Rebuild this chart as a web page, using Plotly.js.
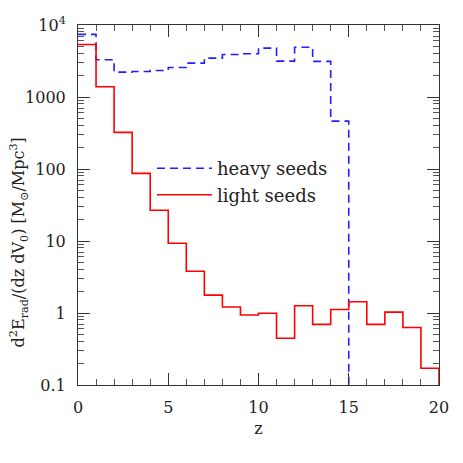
<!DOCTYPE html>
<html>
<head>
<meta charset="utf-8">
<script src="https://cdn.plot.ly/plotly-3.0.1.min.js"></script>
<style>html,body{margin:0;padding:0;background:#fff;}#chart{width:463px;height:463px;}</style>
</head>
<body>
<div id="chart"></div>
<script>
// Bin edges in redshift z
const zEdgesHeavy = [0,1,2,3,4,5,6,7,8,9,10,11,12,13,14,15];
const zEdgesLight = [0,1,2,3,4,5,6,7,8,9,10,11,12,13,14,15,16,17,18,19,20];
// d2E/(dz dV0) per bin [Msun/Mpc^3]
const heavySeeds = [7400, 3290, 2215, 2260, 2330, 2570, 2950, 3465, 3900, 3985, 4770, 3150, 4920, 3120, 463];
const lightSeeds = [5370, 1390, 323, 87, 26.7, 9.3, 3.8, 1.77, 1.21, 0.94, 0.99, 0.445, 1.26, 0.695, 1.12, 1.43, 0.695, 1.03, 0.63, 0.171];
const belowRange = 1e-3; // histogram drops to zero after the last bin
const yTickVals = [0.1, 1, 10, 100, 1000, 10000];
const yTickText = ['0.1', '1', '10', '100', '1000', '10<sup>4</sup>'];

const minorY = [];
for (let e = -1; e < 4; e++) for (let m = 2; m <= 9; m++) minorY.push(m * Math.pow(10, e));

const FONT = 'DejaVu Serif';
const traces = [
  {
    x: zEdgesHeavy, y: heavySeeds.concat([belowRange]),
    type: 'scatter', mode: 'lines', line: {shape: 'hv', color: '#1f1fff', width: 1.6, dash: '8px,5px'},
    name: 'heavy seeds', legendgroup: 'h'
  },
  {
    x: zEdgesLight, y: lightSeeds.concat([belowRange]),
    type: 'scatter', mode: 'lines', line: {shape: 'hv', color: '#ff0000', width: 1.6},
    name: 'light seeds', legendgroup: 'l'
  }
];

const axisCommon = {
  showline: true, linecolor: '#333', linewidth: 1, mirror: 'ticks',
  ticks: 'inside', ticklen: 12, tickcolor: '#333', tickwidth: 1,
  showgrid: false, zeroline: false,
  tickfont: {family: FONT, size: 16, color: '#222'}
};

const layout = {
  width: 463, height: 463,
  margin: {l: 78, r: 24, t: 24.5, b: 78},
  paper_bgcolor: '#fff', plot_bgcolor: '#fff',
  font: {family: FONT, size: 16, color: '#222'},
  showlegend: true,
  legend: {x: 0.205, y: 0.565, xanchor: 'left', yanchor: 'middle', bgcolor: 'rgba(0,0,0,0)', borderwidth: 0,
           font: {family: FONT, size: 18, color: '#222'}, itemwidth: 55, tracegroupgap: 3, traceorder: 'normal'},
  xaxis: Object.assign({}, axisCommon, {
    range: [0, 20], dtick: 5, tick0: 0,
    minor: {ticks: 'inside', ticklen: 6, dtick: 1, tickcolor: '#555', showgrid: false},
    title: {text: 'z', font: {family: FONT, size: 16, color: '#222'}, standoff: 6},
    ticklabelstandoff: 8
  }),
  yaxis: Object.assign({}, axisCommon, {
    type: 'log', range: [-1, 4],
    tickmode: 'array', tickvals: yTickVals, ticktext: yTickText,
    minor: {ticks: 'inside', ticklen: 6, tickmode: 'array', tickvals: minorY, tickcolor: '#555', showgrid: false},
    ticklabelstandoff: 8
  }),
  annotations: [{
    xref: 'paper', yref: 'paper', x: -0.165, y: 0.1,
    xanchor: 'center', yanchor: 'bottom', textangle: -90, showarrow: false,
    text: 'd<sup>2</sup>E<sub>rad</sub>/(dz dV<sub>0</sub>) [M<sub>⊙</sub>/Mpc<sup>3</sup>]',
    font: {family: FONT, size: 16, color: '#222'}
  }]
};

Plotly.newPlot('chart', traces, layout, {displayModeBar: false, staticPlot: true});
</script>
</body>
</html>
